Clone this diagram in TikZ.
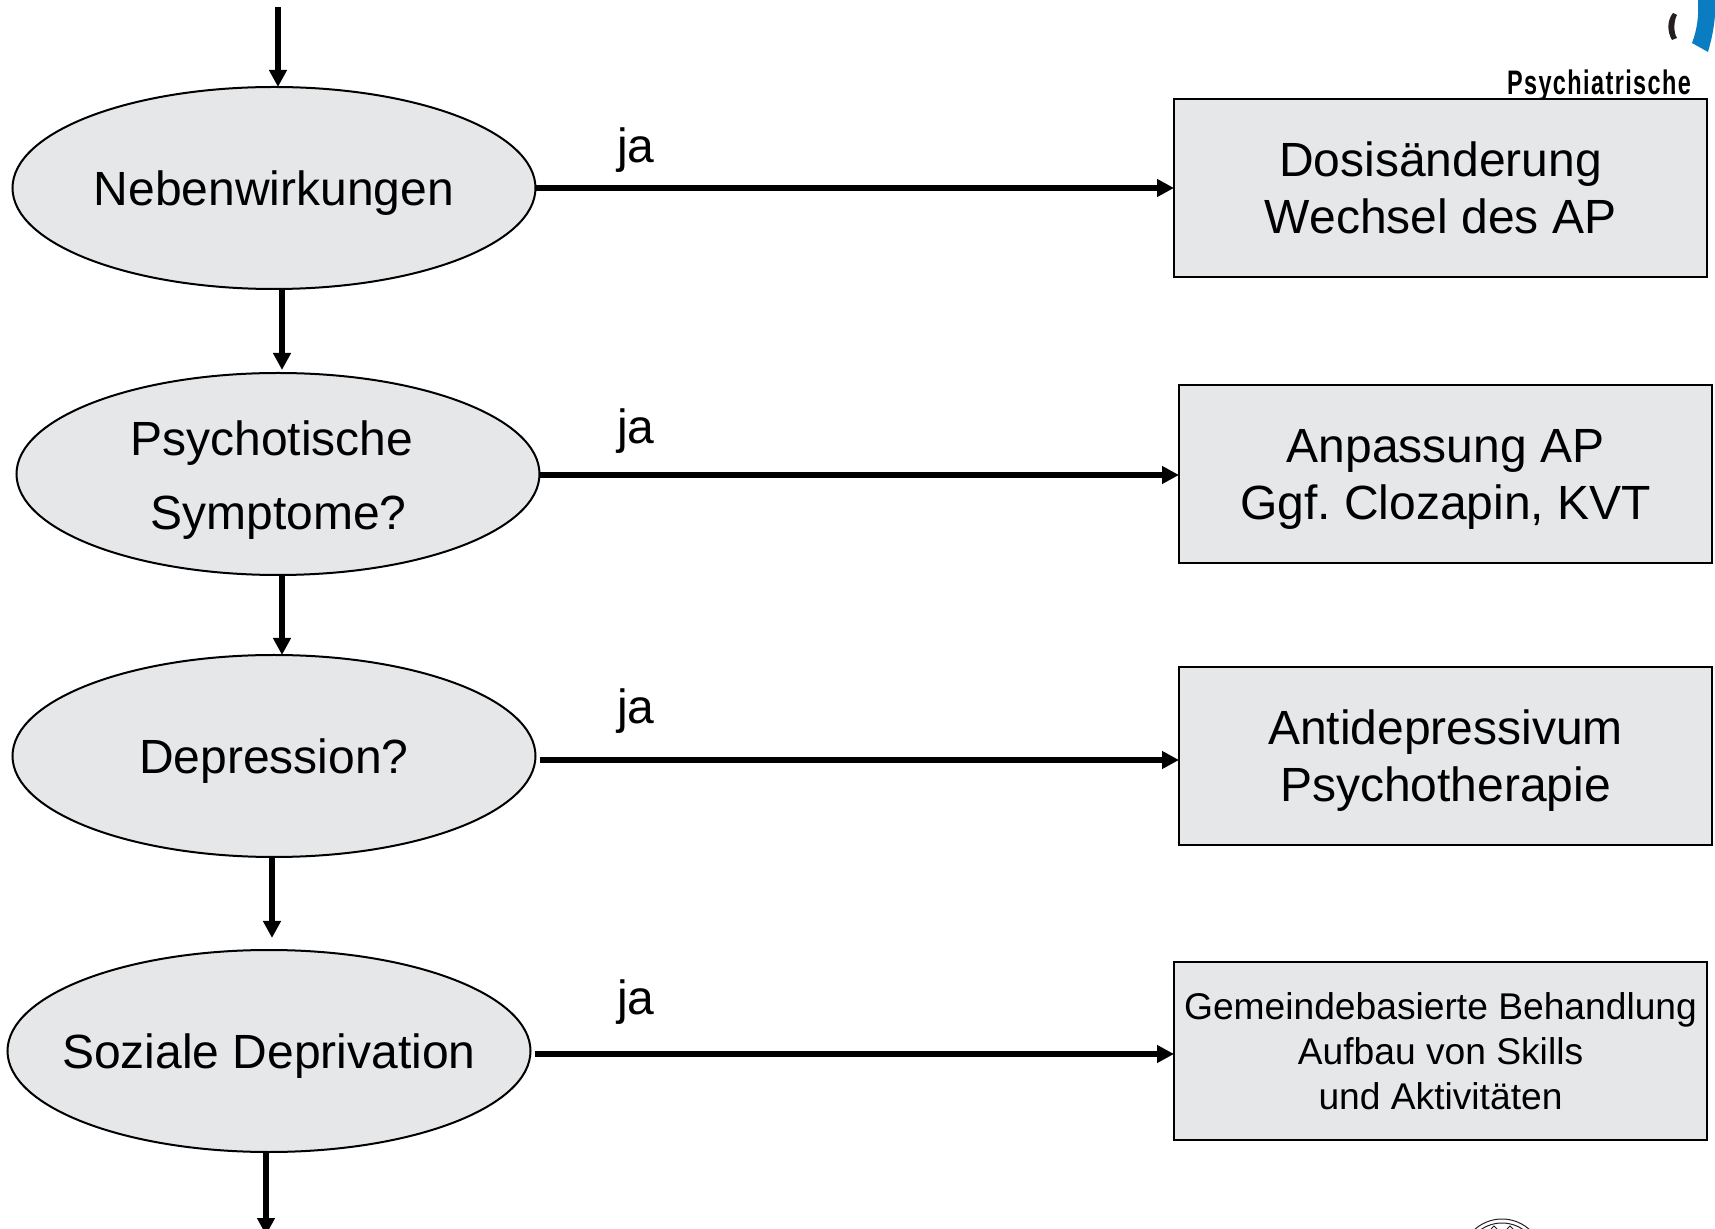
\documentclass[tikz,border=0pt]{standalone}
\usepackage{fontspec}
\setmainfont{Liberation Sans}
\usetikzlibrary{arrows.meta,shapes.geometric}
\definecolor{boxgray}{HTML}{E6E7E9}
\definecolor{logoblue}{HTML}{0A7CC1}
\definecolor{logoblack}{HTML}{231F20}
\frenchspacing
\tikzset{
  question/.style={ellipse,draw=black,line width=1pt,fill=boxgray,inner xsep=-15pt,inner ysep=-5pt,outer sep=0pt,
    minimum width=261.5pt,minimum height=101pt,align=center,text depth=-1pt,font=\fontsize{24}{28}\selectfont},
  action/.style={rectangle,draw=black,line width=1pt,fill=boxgray,inner sep=0pt,outer sep=0pt,
    minimum width=266.5pt,minimum height=89pt,align=center,text depth=-1pt,font=\fontsize{24}{28.5}\selectfont},
  flow/.style={line width=3pt,-{Triangle[length=8.5pt,width=8.5pt]}},
  answer/.style={text depth=0pt,font=\fontsize{24}{28}\selectfont},
}
\begin{document}
\begin{tikzpicture}[x=0.5pt,y=-0.5pt]
\clip (0,0) rectangle (1715,1229);
% logo pieces at the page edges
\fill[logoblue] (1698,0) .. controls (1699,16) and (1697,30) .. (1692,43) -- (1708,52) .. controls (1712,38) and (1715,25) .. (1716,0) -- cycle;
\fill[logoblack] (1673,13) -- (1677,15) .. controls (1674,20) and (1673,32) .. (1677,38) -- (1672,40) .. controls (1667,32) and (1667,20) .. (1673,13) -- cycle;
\node (logotext) at (1599,86) {\fontsize{17}{20}\selectfont\bfseries\addfontfeature{LetterSpace=6}\scalebox{0.69}[1]{Psychiatrische}};
\draw[line width=0.5pt,logoblack] (1502,1260) circle (41);
\draw[line width=0.5pt,logoblack] (1502,1260) circle (37);
\draw[line width=0.5pt,logoblack] (1491,1229) -- (1494,1226) -- (1497,1229) (1507,1229) -- (1510,1226) -- (1513,1229);
% questions
\node[question] (neben) at (274,188) {Nebenwirkungen};
\node[question] (psycho) at (278,474) {};
\node (psychotext1) at (272,438) [answer] {Psychotische};
\node (psychotext2) at (278.5,513) [answer] {Symptome?};
\node[question] (depress) at (274,756) {Depression?};
\node[question] (sozial) at (269,1051) {Soziale Deprivation};
% actions
\node[action] (dosis) at (1440.5,188) {Dosisänderung\\Wechsel des AP};
\node[action] (anpass) at (1445.5,474) {Anpassung AP\\Ggf. Clozapin, KVT};
\node[action] (antidep) at (1445.5,756) {Antidepressivum\\Psychotherapie};
\node[action,font=\fontsize{18.6}{22.5}\selectfont] (gemeinde) at (1440.5,1051) {Gemeindebasierte Behandlung\\Aufbau von Skills\\und Aktivitäten};
% free ends and arrow columns
\coordinate (start) at (278,7);
\coordinate (ende) at (266,1235);
\coordinate (col2) at (282,0);
\coordinate (col4) at (272,0);
\coordinate (row2) at (0,475);
\coordinate (row3) at (0,760);
\coordinate (row4) at (0,1054);
\draw[flow] (start) -- (start |- neben.north);
\draw[flow,shorten >=1.5pt] (neben.south -| col2) -- (psycho.north -| col2);
\draw[flow] (psycho.south -| col2) -- (depress.north -| col2);
\draw[flow,shorten >=6pt] (depress.south -| col4) -- (sozial.north -| col4);
\draw[flow] (ende |- sozial.south) -- (ende);
\draw[flow] (neben.east) -- (dosis.west);
\draw[flow] (psycho.east |- row2) -- (anpass.west |- row2);
\draw[flow] (psycho.east |- row3) -- (antidep.west |- row3);
\draw[flow,shorten <=2pt] (sozial.east |- row4) -- (gemeinde.west |- row4);
% answer labels
\node[answer] (ja1) at (636,145) {ja};
\node[answer] (ja2) at (636,426) {ja};
\node[answer] (ja3) at (636,706) {ja};
\node[answer] (ja4) at (636,997) {ja};
\end{tikzpicture}
\end{document}
